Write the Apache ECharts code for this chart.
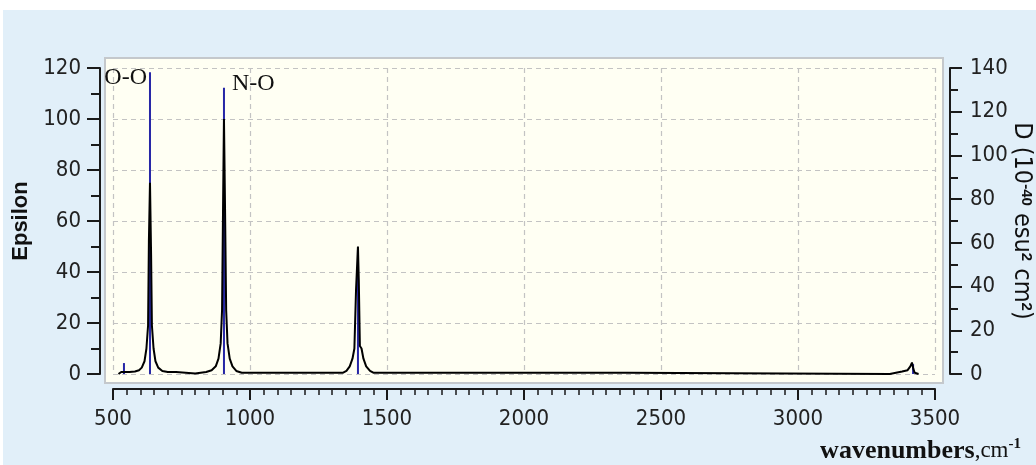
<!DOCTYPE html>
<html>
<head>
<meta charset="utf-8">
<script src="https://cdn.jsdelivr.net/npm/echarts@6/dist/echarts.min.js"></script>
<style>
  html, body { margin: 0; padding: 0; background: #fff; }
  #chart { width: 1036px; height: 465px; }
</style>
</head>
<body>
<div id="chart"></div>
<script>
// spectrum (left axis, Epsilon)
const waveNumbers = [
  520, 530, 560, 580, 595, 605, 615, 622, 628, 631, 635, 639, 642, 648, 655, 665, 680, 700, 730,
  735, 800, 805, 840, 860, 875, 885, 893, 898, 902, 905, 909, 913, 918, 926, 936, 950, 970,
  1340, 1352, 1364, 1374, 1381, 1387, 1391, 1394, 1397, 1401, 1407, 1414, 1424, 1438, 1450,
  2375, 2380, 3335, 3340, 3380, 3400, 3410, 3416, 3421, 3426, 3440
];
const epsilon = [
  0, 0.8, 0.8, 1, 1.5, 2.5, 5, 10, 19, 52, 75, 47, 19, 10, 5, 2.5, 1.2, 0.8, 0.8,
  0.2, 0.2, 0.8, 0.8, 1.5, 3, 6, 12, 25, 69, 100, 64, 25, 12, 6, 3, 1.2, 0.5,
  0.5, 1.2, 3, 6, 10, 33, 33, 50, 37, 11, 10, 6, 3, 1.2, 0.5,
  0.5, 0, 0, 0.4, 1, 1.5, 3, 4.5, 2, 0.5, 0
];

// stick spectrum (right axis, D)
const stickWaves = [540, 635, 905, 1394, 3420];
const stickD = [5, 138, 131, 57, 4.5];
const stickLabels = ["", "O-O", "N-O", "", ""];

const xTicks = { min: 500, max: 3500, step: 500 };
const leftTicks = { min: 0, max: 120, step: 20 };
const rightTicks = { min: 0, max: 140, step: 20 };

const chart = echarts.init(document.getElementById("chart"));

const tickFont = {
  fontFamily: "'Liberation Sans Narrow', 'DejaVu Sans Condensed', 'Liberation Sans', sans-serif",
  fontSize: 22,
  color: "#222"
};
const axisColor = "#1a1a1a";
const serif = "'Liberation Serif', 'Times New Roman', serif";

const stickData = stickWaves.map((w, i) => {
  const item = { value: [w, stickD[i]] };
  if (stickLabels[i] === "O-O") {
    item.label = { show: true, formatter: stickLabels[i], position: [-2, -7], align: "right", verticalAlign: "top" };
  } else if (stickLabels[i] === "N-O") {
    item.label = { show: true, formatter: stickLabels[i], position: [9, -16], align: "left", verticalAlign: "top" };
  }
  return item;
});

const option = {
  backgroundColor: "#ffffff",
  animation: false,
  graphic: [
    { type: "rect", z: -2, silent: true, shape: { x: 3, y: 10, width: 1033, height: 455 }, style: { fill: "#e1eff9" } },
    { type: "rect", z: -1, silent: true, shape: { x: 105, y: 58, width: 838, height: 325 },
      style: { fill: "#fffff3", stroke: "#c4c8cc", lineWidth: 2 } }
  ],
  grid: { left: 113, right: 101, top: 68, bottom: 91, outerBoundsMode: "none", containLabel: false },
  xAxis: {
    type: "value",
    min: xTicks.min, max: xTicks.max, interval: xTicks.step,
    offset: 15,
    name: "{b|wavenumbers}{c|,cm}{s|-1}",
    nameLocation: "end",
    nameGap: 86,
    nameMoveOverlap: false,
    nameTextStyle: {
      align: "right", verticalAlign: "top", padding: [48, 0, 0, 0],
      rich: {
        b: { fontFamily: serif, fontWeight: "bold", fontSize: 26, color: "#111", lineHeight: 28 },
        c: { fontFamily: serif, fontSize: 23, color: "#111", lineHeight: 28 },
        s: { fontFamily: serif, fontWeight: "bold", fontSize: 15, color: "#111", verticalAlign: "top", lineHeight: 28 }
      }
    },
    axisLine: { show: true, onZero: false, lineStyle: { color: axisColor, width: 2 } },
    axisTick: { show: true, length: 11, lineStyle: { color: axisColor, width: 2 } },
    minorTick: { show: true, splitNumber: 10, length: 6, lineStyle: { color: axisColor, width: 1.5 } },
    axisLabel: Object.assign({ margin: 19, formatter: v => String(v) }, tickFont),
    splitLine: { show: true, lineStyle: { color: "#c3c3c3", type: [5, 4], width: 1.2 } }
  },
  yAxis: [
    {
      type: "value",
      min: leftTicks.min, max: leftTicks.max, interval: leftTicks.step,
      position: "left",
      offset: 13,
      name: "Epsilon",
      nameLocation: "middle",
      nameGap: 63,
      nameTextStyle: { fontFamily: "'Liberation Sans', Arial, sans-serif", fontWeight: "bold", fontSize: 22, color: "#111" },
      axisLine: { show: true, lineStyle: { color: axisColor, width: 2 } },
      axisTick: { show: true, length: 13, lineStyle: { color: axisColor, width: 2 } },
      minorTick: { show: true, splitNumber: 2, length: 9, lineStyle: { color: axisColor, width: 2 } },
      axisLabel: Object.assign({ margin: 19 }, tickFont),
      splitLine: { show: true, lineStyle: { color: "#c3c3c3", type: [5, 4], width: 1.2 } }
    },
    {
      type: "value",
      min: rightTicks.min, max: rightTicks.max, interval: rightTicks.step,
      position: "right",
      offset: 15,
      name: "{n|D (10}{s|-40}{n| esu}{s|2}{n| cm}{s|2}{n|)}",
      nameLocation: "middle",
      nameRotate: -90,
      nameGap: 58,
      nameMoveOverlap: false,
      nameTextStyle: {
        rich: {
          n: { fontFamily: tickFont.fontFamily, fontSize: 25, color: "#111", lineHeight: 26 },
          s: { fontFamily: "'Liberation Sans', Arial, sans-serif", fontWeight: "bold", fontSize: 15, color: "#111", verticalAlign: "top", lineHeight: 26 }
        }
      },
      axisLine: { show: true, lineStyle: { color: axisColor, width: 2 } },
      axisTick: { show: true, length: 12, lineStyle: { color: axisColor, width: 2 } },
      minorTick: { show: true, splitNumber: 2, length: 8, lineStyle: { color: axisColor, width: 2 } },
      axisLabel: Object.assign({ margin: 20 }, tickFont),
      splitLine: { show: false }
    }
  ],
  series: [
    {
      name: "D",
      type: "bar",
      yAxisIndex: 1,
      barWidth: 2,
      itemStyle: { color: "#2626a6" },
      label: { show: false, fontFamily: serif, fontSize: 24, color: "#111" },
      data: stickData,
      z: 2
    },
    {
      name: "Epsilon",
      type: "line",
      yAxisIndex: 0,
      showSymbol: false,
      lineStyle: { color: "#000", width: 2 },
      data: waveNumbers.map((w, i) => [w, epsilon[i]]),
      z: 3
    }
  ]
};

chart.setOption(option);
</script>
</body>
</html>
